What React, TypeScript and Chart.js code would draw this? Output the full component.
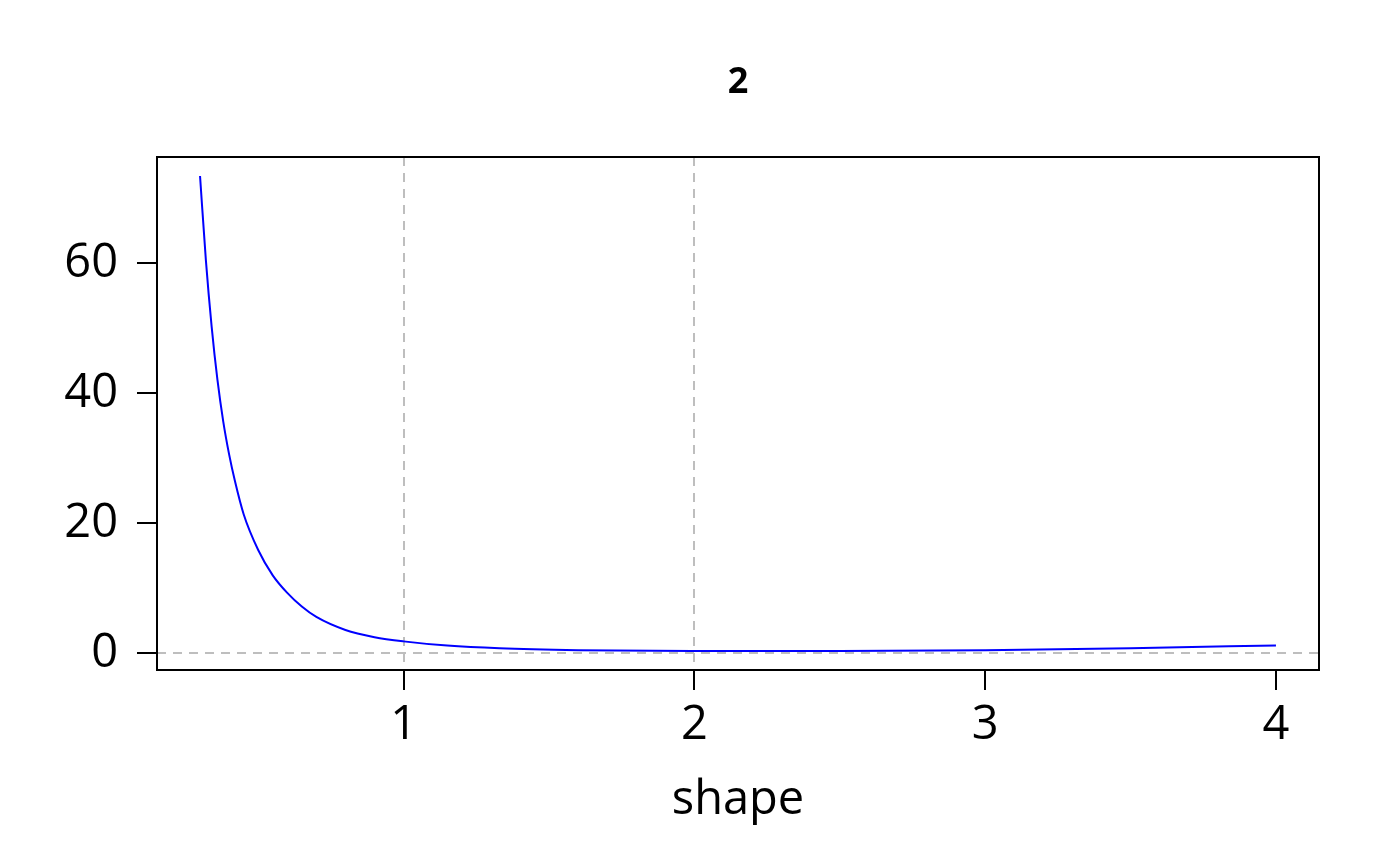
import React, { useEffect, useRef } from "react";
import { Chart, registerables } from "chart.js";

Chart.register(...registerables);

const chartTitle = "2";
const xAxisLabel = "shape";
const shapeValues = [0.3, 0.32, 0.34, 0.36, 0.38, 0.40, 0.42, 0.45, 0.5, 0.55, 0.6, 0.65, 0.7, 0.8, 0.9, 1.0, 1.15, 1.33, 1.6, 2.0, 2.5, 3.0, 3.5, 4.0];
const curveValues = [73.4, 60.5, 50.2, 42.0, 35.6, 30.6, 26.5, 21.4, 15.9, 12.0, 9.3, 7.2, 5.6, 3.6, 2.5, 1.85, 1.2, 0.78, 0.5, 0.37, 0.38, 0.5, 0.8, 1.23];
const xTickValues = [1, 2, 3, 4];
const yTickValues = [0, 20, 40, 60];
const xGridValues = [1, 2];
const yGridValues = [0];

const FONT = "'Open Sans', 'Noto Sans', sans-serif";

function extendRange(vals: number[]) {
  const lo = Math.min(...vals);
  const hi = Math.max(...vals);
  const pad = (hi - lo) * 0.04;
  return [lo - pad, hi + pad];
}

const textPlugin = {
  id: "rtexts",
  afterDraw(chart: any) {
    const { ctx, chartArea } = chart;
    ctx.save();
    ctx.strokeStyle = "#000";
    ctx.lineWidth = 2;
    ctx.strokeRect(chartArea.left, chartArea.top, chartArea.right - chartArea.left, chartArea.bottom - chartArea.top);
    const cx = (chartArea.left + chartArea.right) / 2;
    ctx.fillStyle = "#000";
    ctx.textAlign = "center";
    ctx.textBaseline = "alphabetic";
    ctx.font = `bold 36px ${FONT}`;
    ctx.fillText(chartTitle, cx, 93);
    ctx.font = `47px ${FONT}`;
    ctx.fillText(xAxisLabel, cx, 814);
    ctx.restore();
  },
};

export default function App() {
  const ref = useRef<HTMLCanvasElement>(null);
  useEffect(() => {
    document.body.style.margin = "0";
    const [xmin, xmax] = extendRange(shapeValues);
    const [ymin, ymax] = extendRange(curveValues);
    const chart = new Chart(ref.current as HTMLCanvasElement, {
      type: "line",
      data: {
        datasets: [
          {
            data: shapeValues.map((x, i) => ({ x, y: curveValues[i] })),
            borderColor: "#0000ff",
            borderWidth: 2,
            pointRadius: 0,
            cubicInterpolationMode: "monotone",
            fill: false,
          },
        ],
      },
      options: {
        animation: false,
        responsive: false,
        layout: { padding: { top: 157, right: 81, left: 0, bottom: 0 } },
        plugins: { legend: { display: false }, title: { display: false }, tooltip: { enabled: false } },
        scales: {
          x: {
            type: "linear",
            min: xmin,
            max: xmax,
            afterBuildTicks: (s: any) => {
              s.ticks = xTickValues.map((v) => ({ value: v }));
            },
            afterFit: (s: any) => {
              s.height = 196;
            },
            border: { display: false, dash: [9, 7] },
            grid: {
              color: (c: any) => (xGridValues.includes(c.tick?.value) ? "#bebebe" : "rgba(0,0,0,0)"),
              lineWidth: 2,
              tickColor: "#000",
              tickWidth: 2,
              tickLength: 20,
              tickBorderDash: [],
            },
            ticks: {
              color: "#000",
              font: { family: FONT, size: 47 },
              padding: 7,
              maxRotation: 0,
              autoSkip: false,
              callback: (v: any) => String(v),
            },
          },
          y: {
            type: "linear",
            min: ymin,
            max: ymax,
            afterBuildTicks: (s: any) => {
              s.ticks = yTickValues.map((v) => ({ value: v }));
            },
            afterFit: (s: any) => {
              s.width = 157;
            },
            border: { display: false, dash: [9, 7] },
            grid: {
              color: (c: any) => (yGridValues.includes(c.tick?.value) ? "#bebebe" : "rgba(0,0,0,0)"),
              lineWidth: 2,
              tickColor: "#000",
              tickWidth: 2,
              tickLength: 20,
              tickBorderDash: [],
            },
            ticks: {
              color: "#000",
              font: { family: FONT, size: 47 },
              padding: 19,
              autoSkip: false,
              callback: (v: any) => String(v),
            },
          },
        },
      },
      plugins: [textPlugin],
    } as any);
    return () => chart.destroy();
  }, []);
  return (
    <div style={{ position: "absolute", left: 0, top: 0, width: 1400, height: 866, background: "#fff" }}>
      <canvas ref={ref} width={1400} height={866} />
    </div>
  );
}
